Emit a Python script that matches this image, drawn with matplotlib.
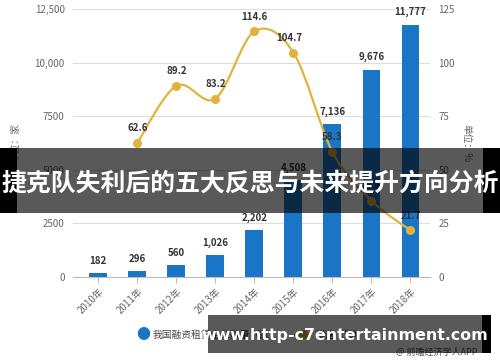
import matplotlib
matplotlib.use("Agg")
import matplotlib.pyplot as plt
from matplotlib.path import Path
from matplotlib.patches import PathPatch, Rectangle
from matplotlib.ticker import FuncFormatter

plt.rcParams["font.family"] = ["Noto Sans CJK SC", "DejaVu Sans"]

years = ["2010年", "2011年", "2012年", "2013年", "2014年", "2015年", "2016年", "2017年", "2018年"]
companies = [182, 296, 560, 1026, 2202, 4508, 7136, 9676, 11777]
growth_years = [1, 2, 3, 4, 5, 6, 7, 8]
growth = [62.6, 89.2, 83.2, 114.6, 104.7, 58.3, 35.6, 21.7]
left_ticks = [0, 2500, 5000, 7500, 10000, 12500]
right_ticks = [0, 25, 50, 75, 100, 125]

title = "捷克队失利后的五大反思与未来提升方向分析"
url_text = "www.http-c7entertainment.com"

BLUE = "#1a75c6"
GOLD = "#e2b23c"
GREY = "#666666"


def smooth_path(xs, ys):
    # catmull-rom through the points, drawn as cubic bezier segments
    pts = list(zip(xs, ys))
    verts = [pts[0]]
    codes = [Path.MOVETO]
    for i in range(len(pts) - 1):
        p0 = pts[i - 1] if i > 0 else pts[i]
        p1 = pts[i]
        p2 = pts[i + 1]
        p3 = pts[i + 2] if i + 2 < len(pts) else pts[i + 1]
        c1 = (p1[0] + (p2[0] - p0[0]) / 6, p1[1] + (p2[1] - p0[1]) / 6)
        c2 = (p2[0] - (p3[0] - p1[0]) / 6, p2[1] - (p3[1] - p1[1]) / 6)
        verts += [c1, c2, p2]
        codes += [Path.CURVE4] * 3
    return Path(verts, codes)


fig = plt.figure(figsize=(5, 3.62), dpi=100)
ax = fig.add_axes([0.146, 0.235, 0.714, 0.740])
ax2 = ax.twinx()

x = list(range(len(years)))
ax.bar(x, companies, width=0.46, color=BLUE, zorder=2)
for xi, v in zip(x, companies):
    ax.text(xi, v + 330, f"{v:,}", ha="center", va="bottom", fontsize=7,
            color="#333333", fontweight="bold")

ax.set_xlim(-0.65, 8.5)
ax.set_ylim(0, 12500)
ax.set_yticks(left_ticks)
ax.yaxis.set_major_formatter(FuncFormatter(lambda v, p: f"{int(v):,}" if v >= 10000 else f"{int(v)}"))
ax.set_xticks(x)
ax.set_xticklabels(years, rotation=45, ha="right", rotation_mode="anchor", fontsize=7, color=GREY)
ax.grid(axis="y", color="#dddddd", linewidth=0.8, zorder=0)
ax.set_axisbelow(True)
for side in ["top", "right", "left"]:
    ax.spines[side].set_visible(False)
ax.spines["bottom"].set_color("#bbbbbb")
ax.tick_params(axis="y", length=0, labelsize=7, labelcolor=GREY, pad=6)
ax.tick_params(axis="x", length=4, color="#bbbbbb", pad=3)
ax.set_ylabel("单位：家", fontsize=7, color=GREY, labelpad=10)

ax2.set_ylim(0, 125)
ax2.set_yticks(right_ticks)
ax2.tick_params(axis="y", length=0, labelsize=7, labelcolor=GREY, pad=6)
for side in ax2.spines:
    ax2.spines[side].set_visible(False)
ax2.set_ylabel("单位：%", fontsize=7, color=GREY, rotation=270, labelpad=12)

ax2.add_patch(PathPatch(smooth_path(growth_years, growth), facecolor="none",
                        edgecolor=GOLD, linewidth=1.6, zorder=3))
ax2.plot(growth_years, growth, "o", color=GOLD, markersize=5.5, zorder=4)
offsets = {5: (-0.1, 4.5)}
for xi, v in zip(growth_years, growth):
    dx, dy = offsets.get(xi, (0, 4.5))
    ax2.text(xi + dx, v + dy, f"{v}", ha="center", va="bottom", fontsize=7,
             color="#333333", fontweight="bold", zorder=5)

# legend row
fig.text(0.286, 0.075, "●", color=BLUE, fontsize=10, ha="center", va="center")
fig.text(0.306, 0.075, "我国融资租赁企业数量（家）", color="#444444", fontsize=7, va="center")
fig.add_artist(plt.Line2D([0.59, 0.622], [0.075, 0.075], color=GOLD, linewidth=1.6))
fig.text(0.606, 0.075, "●", color=GOLD, fontsize=7, ha="center", va="center")
fig.text(0.632, 0.075, "增速（%）", color="#444444", fontsize=7, va="center")
fig.text(0.955, 0.027, "@ 前瞻经济学人APP", color="#555555", fontsize=6.5, ha="right", va="center")

# middle overlay banner
fig.add_artist(Rectangle((0, 0.4116), 1, 0.1796, transform=fig.transFigure,
                         facecolor="black", alpha=0.65, zorder=10))
fig.add_artist(Rectangle((0, 0.4116), 0.034, 0.1796, transform=fig.transFigure,
                         facecolor="black", zorder=10))
fig.add_artist(Rectangle((0.966, 0.4116), 0.034, 0.1796, transform=fig.transFigure,
                         facecolor="black", zorder=10))
fig.text(0.5, 0.494, title, color="white", fontsize=17.9, fontweight="bold",
         ha="center", va="center", zorder=11)

# bottom overlay banner
fig.add_artist(Rectangle((0.415, 0.025), 0.55, 0.105, transform=fig.transFigure,
                         facecolor="black", alpha=0.65, zorder=10))
fig.add_artist(Rectangle((0.964, 0.025), 0.018, 0.105, transform=fig.transFigure,
                         facecolor="black", zorder=10))
fig.text(0.69, 0.072, url_text, color="white", fontsize=11.4, fontweight="bold",
         family="DejaVu Sans", ha="center", va="center", zorder=11)

fig.savefig("out.png", dpi=100)
